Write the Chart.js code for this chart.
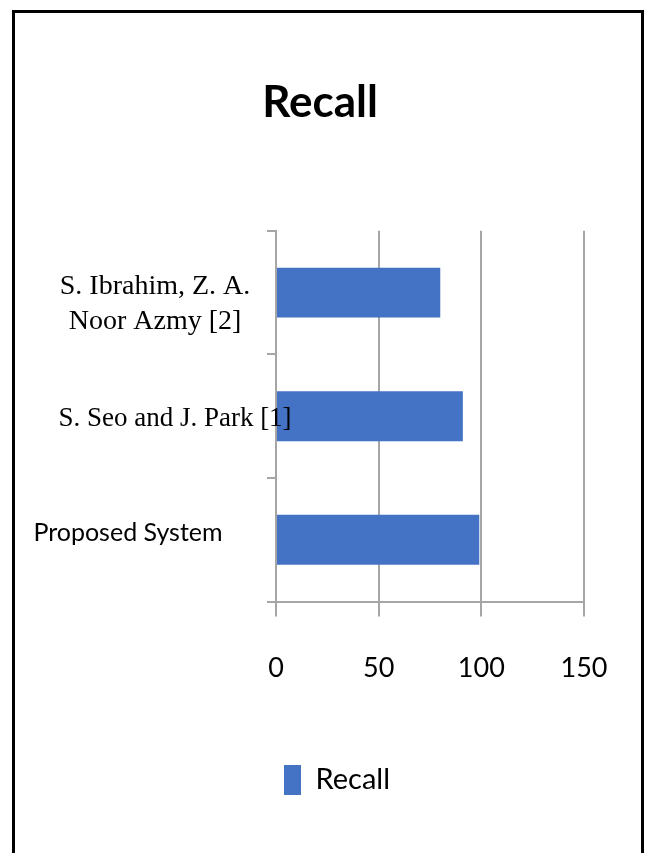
<!DOCTYPE html>
<html>
<head>
<meta charset="utf-8">
<script src="https://cdn.jsdelivr.net/npm/chart.js@4"></script>
<style>
  html, body { margin: 0; padding: 0; background: #fff; overflow: hidden; }
  #wrap { position: relative; width: 649px; height: 853px; }
  #frame { position: absolute; left: 12px; top: 10px; width: 632px; height: 900px; border: 3px solid #000; box-sizing: border-box; pointer-events: none; }
  canvas { position: absolute; left: 0; top: 0; }
</style>
</head>
<body>
<div id="wrap">
  <canvas id="c" width="649" height="853"></canvas>
  <div id="frame"></div>
</div>
<script>
// ---- data ----
const categories = ['Proposed System', 'S. Seo and J. Park [1]', ['S. Ibrahim, Z. A.', 'Noor Azmy [2]']];
const recallValues = [99, 91, 80];
const seriesName = 'Recall';
const xTicks = [0, 50, 100, 150];

// ---- category label styling (text placement only) ----
const labelStyles = [
  { font: '25px Lato', cx: 128, dy: 1, lh: 35 },
  { font: '27px "Liberation Serif"', cx: 175, dy: 10, lh: 35 },
  { font: '28px "Liberation Serif"', cx: 155, dy: 1, lh: 35 }
];

const GRID = '#a6a6a6';
const LEGEND_SHIFT = 17;

const categoryLabelPlugin = {
  id: 'categoryLabels',
  afterLayout(chart) {
    if (chart.legend) {
      chart.legend.left += LEGEND_SHIFT;
      chart.legend.right += LEGEND_SHIFT;
    }
  },
  afterDraw(chart) {
    const ctx = chart.ctx;
    const yScale = chart.scales.y;
    ctx.save();
    ctx.fillStyle = '#000';
    ctx.textAlign = 'center';
    ctx.textBaseline = 'alphabetic';
    categories.forEach((lab, i) => {
      const st = labelStyles[i];
      const lines = Array.isArray(lab) ? lab : [lab];
      const yc = yScale.getPixelForValue(i);
      ctx.font = st.font;
      lines.forEach((line, k) => {
        ctx.fillText(line, st.cx, yc + st.dy + k * st.lh);
      });
    });
    ctx.restore();
  }
};

new Chart(document.getElementById('c'), {
  type: 'bar',
  data: {
    labels: categories,
    datasets: [{
      label: seriesName,
      data: recallValues,
      backgroundColor: '#4472C4',
      borderWidth: 0,
      categoryPercentage: 1,
      barPercentage: 0.404
    }]
  },
  options: {
    responsive: false,
    animation: false,
    indexAxis: 'y',
    layout: { padding: { left: 56, right: 65, top: 0, bottom: 48 } },
    plugins: {
      title: {
        display: true,
        text: 'Recall',
        color: '#000',
        font: { family: 'Lato', size: 44, weight: 'bold' },
        padding: { top: 76, bottom: 102 }
      },
      legend: {
        display: true,
        position: 'bottom',
        labels: {
          color: '#000',
          font: { family: 'Lato', size: 29 },
          boxWidth: 17,
          boxHeight: 30,
          padding: 10
        }
      },
      tooltip: { enabled: false }
    },
    scales: {
      x: {
        min: xTicks[0],
        max: xTicks[xTicks.length - 1],
        afterFit: (s) => { s.height += 36; },
        ticks: {
          stepSize: xTicks[1] - xTicks[0],
          color: '#000',
          font: { family: 'Lato', size: 27 },
          padding: 35
        },
        grid: {
          color: GRID,
          lineWidth: 2,
          drawTicks: true,
          tickLength: 15,
          tickColor: GRID
        },
        border: { display: true, color: GRID, width: 2 }
      },
      y: {
        reverse: true,
        afterFit: (s) => { s.width = 220; },
        ticks: { display: false },
        grid: {
          drawOnChartArea: false,
          drawTicks: true,
          tickLength: 9,
          color: GRID,
          lineWidth: 2,
          offset: true
        },
        border: { display: true, color: GRID, width: 2 }
      }
    }
  },
  plugins: [categoryLabelPlugin]
});
</script>
</body>
</html>
